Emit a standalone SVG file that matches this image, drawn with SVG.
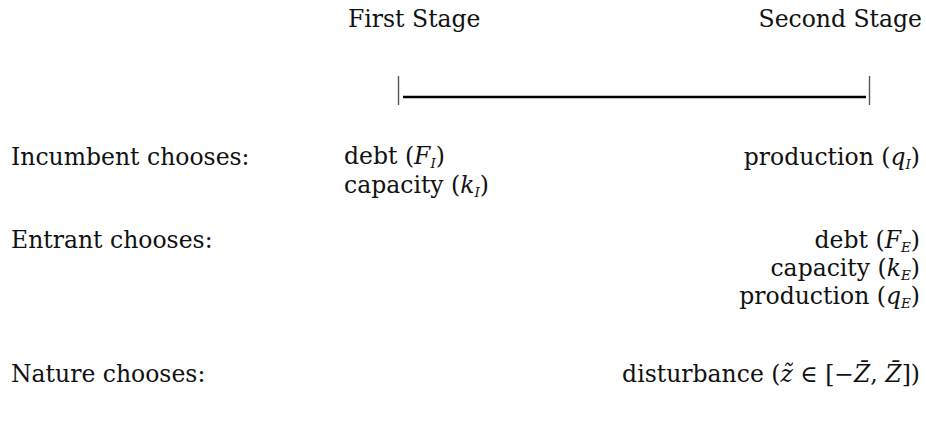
<svg xmlns="http://www.w3.org/2000/svg" width="926" height="433" viewBox="0 0 926 433">
<style>
text{font-family:"DejaVu Serif","Liberation Serif",serif;font-size:23.5px;fill:#111}
.m{font-style:italic}
.s{font-size:13.5px;font-style:italic}
.e{text-anchor:end}
.tick{stroke:#555;stroke-width:1.4}
.bar{stroke:#000;stroke-width:2.4}
</style>
<rect width="926" height="433" fill="#fff"/>
<g id="headers">
<text x="348" y="27">First Stage</text>
<text class="e" x="922" y="27">Second Stage</text>
</g>
<g id="timeline">
<line class="tick" x1="398.5" y1="76" x2="398.5" y2="105"/>
<line class="bar" x1="403" y1="97" x2="866" y2="97"/>
<line class="tick" x1="869.5" y1="76" x2="869.5" y2="105"/>
</g>
<g id="incumbent">
<text x="11" y="165">Incumbent chooses:</text>
<text x="344" y="164">debt (<tspan class="m">F</tspan><tspan class="s" dy="4">I</tspan><tspan dy="-4">)</tspan></text>
<text x="344" y="193">capacity (<tspan class="m">k</tspan><tspan class="s" dy="4">I</tspan><tspan dy="-4">)</tspan></text>
<text class="e" x="920" y="165">production (<tspan class="m">q</tspan><tspan class="s" dy="4">I</tspan><tspan dy="-4">)</tspan></text>
</g>
<g id="entrant">
<text x="11" y="248">Entrant chooses:</text>
<text class="e" x="920" y="248">debt (<tspan class="m">F</tspan><tspan class="s" dy="4">E</tspan><tspan dy="-4">)</tspan></text>
<text class="e" x="920" y="276">capacity (<tspan class="m">k</tspan><tspan class="s" dy="4">E</tspan><tspan dy="-4">)</tspan></text>
<text class="e" x="920" y="304">production (<tspan class="m">q</tspan><tspan class="s" dy="4">E</tspan><tspan dy="-4">)</tspan></text>
</g>
<g id="nature">
<text x="11" y="382">Nature chooses:</text>
<text class="e" x="920" y="382">disturbance (<tspan class="m">z̃</tspan> ∈ [−<tspan class="m">Z̄</tspan>, <tspan class="m">Z̄</tspan>])</text>
</g>
</svg>
